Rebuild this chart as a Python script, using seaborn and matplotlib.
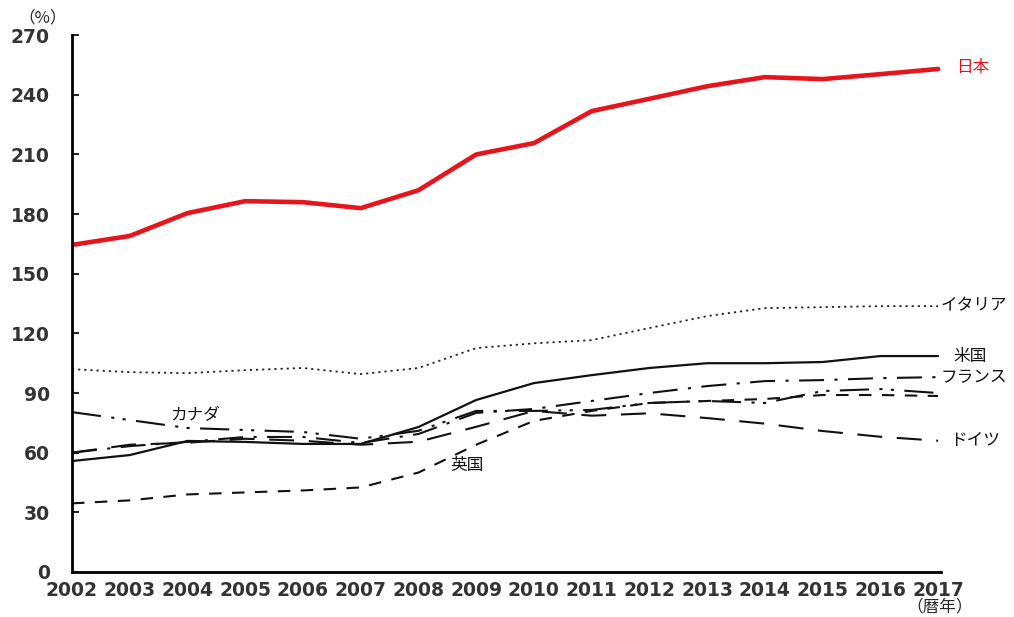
import numpy as np
import pandas as pd
import matplotlib
matplotlib.use("Agg")
import matplotlib.pyplot as plt
import seaborn as sns

years = list(range(2002, 2018))
japan   = [164.5, 169.0, 180.5, 186.5, 186.0, 183.0, 192.0, 210.0, 215.7, 231.8, 238.0, 244.3, 248.9, 247.9, 250.4, 253.0]
italy   = [102.0, 100.5, 100.0, 101.5, 102.6, 99.5, 102.6, 112.6, 115.0, 116.6, 122.7, 128.7, 132.7, 133.2, 133.7, 133.7]
usa     = [55.8, 58.8, 65.9, 65.4, 64.4, 64.4, 72.9, 86.5, 95.0, 99.0, 102.6, 105.0, 105.0, 105.6, 108.6, 108.6]
france  = [60.0, 63.3, 65.4, 67.9, 67.9, 64.9, 69.4, 80.0, 82.0, 86.0, 90.0, 93.5, 96.0, 96.5, 97.5, 98.0]
canada  = [80.4, 76.4, 72.4, 71.4, 70.4, 67.0, 71.0, 81.0, 81.0, 81.5, 85.0, 86.0, 85.0, 91.0, 92.0, 90.0]
germany = [60.0, 64.0, 65.0, 67.0, 66.0, 64.0, 65.5, 73.0, 81.0, 78.6, 79.8, 77.4, 74.6, 70.9, 68.0, 66.0]
uk      = [34.5, 36.0, 39.0, 40.0, 41.0, 42.5, 50.0, 64.0, 76.0, 81.0, 85.0, 86.0, 87.0, 89.0, 89.0, 88.5]

y_ticks = [0, 30, 60, 90, 120, 150, 180, 210, 240, 270]

sns.set_style("white")
plt.rcParams["font.family"] = ["DejaVu Sans", "Noto Sans CJK JP"]
jp = ["Noto Sans CJK JP", "DejaVu Sans"]

fig = plt.figure(figsize=(10.14, 6.17), dpi=100)
ax = fig.add_axes([0.071, 0.073, 0.857, 0.870])

series = [
    ("日本", japan, "#e8141c", 3.3, "-"),
    ("イタリア", italy, "#222222", 1.3, (0, (1.2, 2.2))),
    ("米国", usa, "#111111", 1.6, "-"),
    ("フランス", france, "#111111", 1.5, (0, (12, 5, 1.5, 5))),
    ("カナダ", canada, "#111111", 1.5, (0, (14, 5, 1.5, 4, 1.5, 5))),
    ("ドイツ", germany, "#111111", 1.5, (0, (12, 7))),
    ("英国", uk, "#111111", 1.5, (0, (6, 5))),
]

for name, vals, color, lw, ls in series:
    df = pd.DataFrame({"year": years, "value": vals})
    sns.lineplot(data=df, x="year", y="value", ax=ax, color=color,
                 linewidth=lw, linestyle=ls, legend=False)

# series labels at the line ends and inside the plot
lab = dict(fontsize=12, family=jp, va="center")
ax.text(2017.31, japan[-1] + 0.5, "日本", color="#e8141c", ha="left", **lab)
ax.text(2017.05, italy[-1], "イタリア", color="#111111", ha="left", **lab)
ax.text(2017.26, usa[-1], "米国", color="#111111", ha="left", **lab)
ax.text(2017.05, france[-1], "フランス", color="#111111", ha="left", **lab)
ax.text(2017.20, germany[-1], "ドイツ", color="#111111", ha="left", **lab)
ax.text(2004.14, 78.4, "カナダ", color="#111111", ha="center", **lab)
ax.text(2008.84, 53.3, "英国", color="#111111", ha="center", **lab)

ax.set_xlim(2002, 2017.05)
ax.set_ylim(0, 270)
ax.set_xticks(years)
ax.set_xticklabels([str(y) for y in years])
ax.set_yticks(y_ticks)
ax.set_xlabel("")
ax.set_ylabel("")

for side in ("top", "right"):
    ax.spines[side].set_visible(False)
for side in ("left", "bottom"):
    ax.spines[side].set_linewidth(2.0)
    ax.spines[side].set_color("black")

ax.tick_params(axis="y", direction="in", length=5, width=1.5, left=True,
               labelsize=13.5, pad=16)
ax.tick_params(axis="x", bottom=False, labelsize=13.5, pad=3)
for lbl in ax.get_xticklabels() + ax.get_yticklabels():
    lbl.set_fontweight("bold")
    lbl.set_color("#333333")

fig.text(0.042, 0.971, "（%）", fontsize=12, ha="center", va="center", family=jp)
fig.text(0.927, 0.016, "（暦年）", fontsize=12, ha="center", va="center", family=jp)

fig.savefig("out.png", dpi=100)
